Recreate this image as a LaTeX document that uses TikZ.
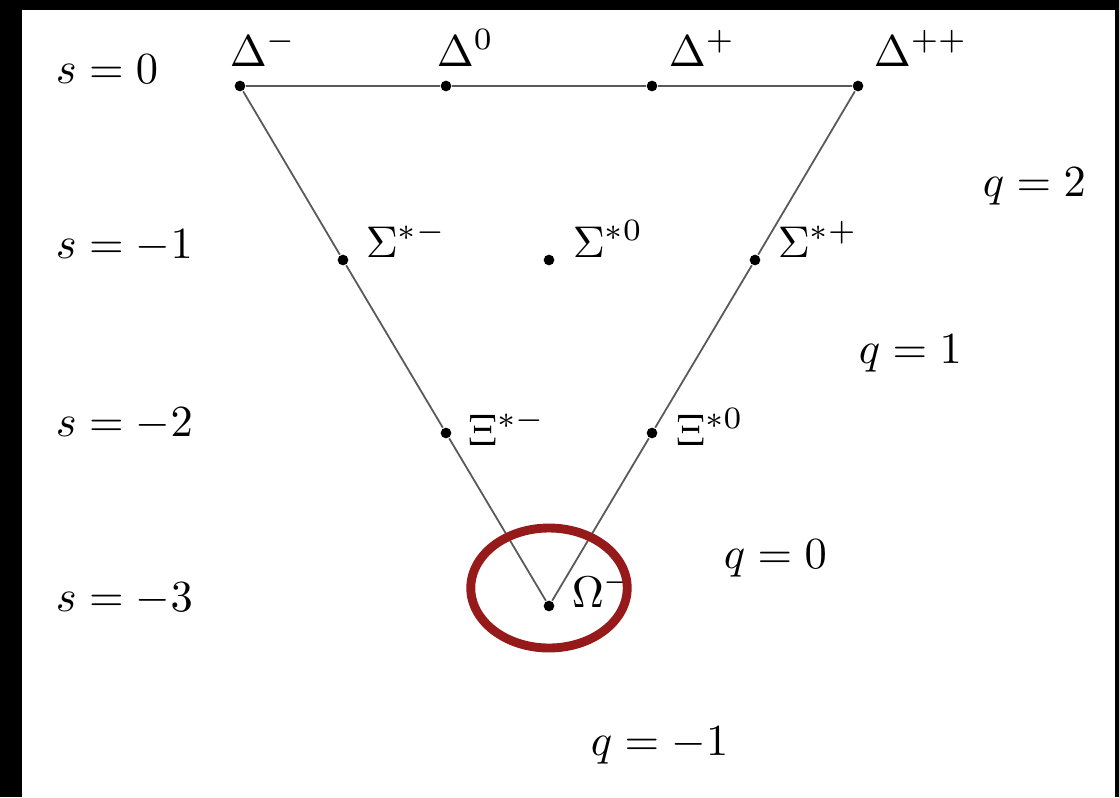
\documentclass[tikz,border=0pt]{standalone}
\begin{document}
\begin{tikzpicture}[x=0.225pt,y=-0.225pt,
  dot/.style={circle,fill=black,inner sep=0pt,minimum size=2.4pt},
  lbl/.style={anchor=base west,inner sep=0pt,font=\normalsize},
  edge/.style={draw=black!65,line width=0.4pt},
  ring/.style={draw={rgb,255:red,150;green,26;blue,26},line width=2pt}]
\useasboundingbox (0,0) rectangle (1119,797);
\fill[black] (0,0) rectangle (1119,797);
\fill[white] (22,10) rectangle (1115,797);
% points
\node[dot] (dm) at (240,86) {};
\node[dot] (d0) at (446,86) {};
\node[dot] (dp) at (652,86) {};
\node[dot] (dpp) at (858,86) {};
\node[dot] (sm) at (343,260) {};
\node[dot] (s0) at (549,260) {};
\node[dot] (sp) at (755,260) {};
\node[dot] (xm) at (446,433) {};
\node[dot] (x0) at (652,433) {};
\node[dot] (om) at (549,606) {};
% edges
\draw[edge] (dm) -- (d0) -- (dp) -- (dpp);
\draw[edge] (dm) -- (sm) -- (xm) -- (om);
\draw[edge] (dpp) -- (sp) -- (x0) -- (om);
% particle labels
\node[lbl] (ldm) at (229,66) {$\Delta^-$};
\node[lbl] (ld0) at (436,66) {$\Delta^0$};
\node[lbl] (ldp) at (668,66) {$\Delta^+$};
\node[lbl] (ldpp) at (873,66) {$\Delta^{++}$};
\node[lbl] (lsm) at (365,257) {$\Sigma^{*-}$};
\node[lbl] (ls0) at (572,257) {$\Sigma^{*0}$};
\node[lbl] (lsp) at (777,257) {$\Sigma^{*+}$};
\node[lbl] (lxm) at (467,445) {$\Xi^{*-}$};
\node[lbl] (lx0) at (675,445) {$\Xi^{*0}$};
\node[lbl] (lom) at (571,607) {$\Omega^-$};
% strangeness labels
\node[lbl] (s0l) at (55,83) {$s=0$};
\node[lbl] (s1l) at (55,258) {$s=-1$};
\node[lbl] (s2l) at (55,436) {$s=-2$};
\node[lbl] (s3l) at (55,611) {$s=-3$};
% charge labels
\node[lbl] (q2) at (982,196) {$q=2$};
\node[lbl] (q1) at (858,363) {$q=1$};
\node[lbl] (q0) at (723,568) {$q=0$};
\node[lbl] (qm1) at (590,755) {$q=-1$};
% highlight
\draw[ring] (549,588) ellipse [x radius=17.6pt, y radius=13.5pt];
\end{tikzpicture}
\end{document}
